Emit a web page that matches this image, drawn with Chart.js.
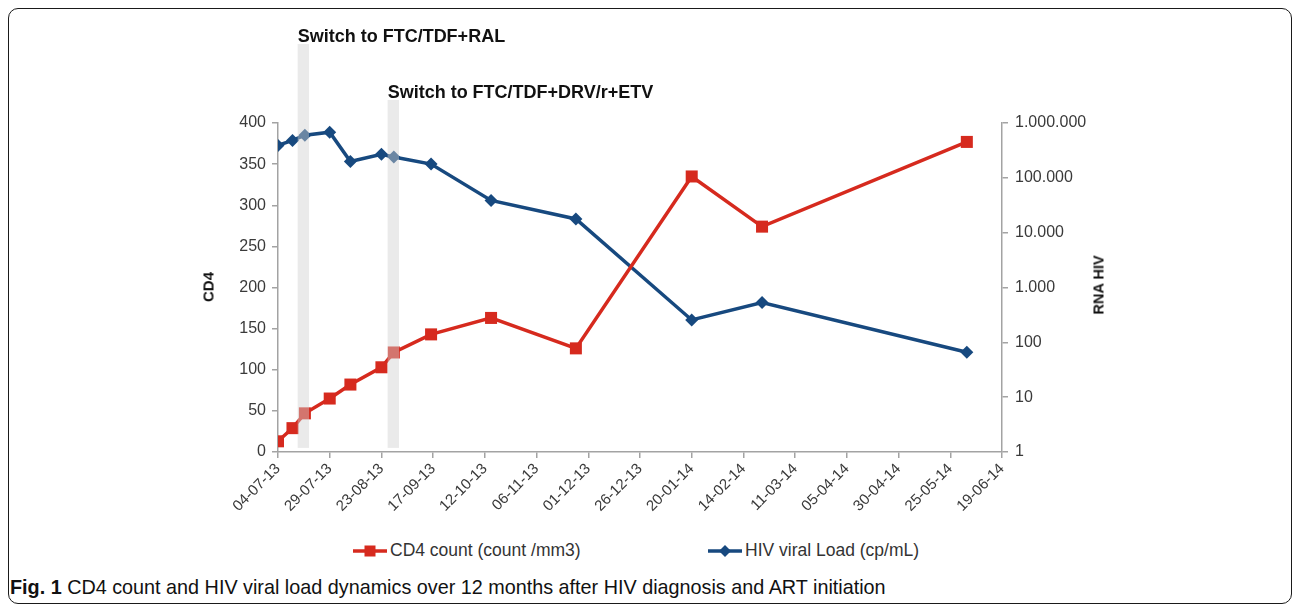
<!DOCTYPE html>
<html>
<head>
<meta charset="utf-8">
<script src="https://cdn.jsdelivr.net/npm/chart.js@4.4.1/dist/chart.umd.min.js"></script>
<style>
  body { margin: 0; background: #fff; font-family: "Liberation Sans", Arial, sans-serif; }
  #frame { position: absolute; left: 8px; top: 8px; width: 1282px; height: 594px;
           border: 1.5px solid #1a1a1a; border-radius: 10px; }
  #chart { position: absolute; left: 0; top: 0; }
  .note { position: absolute; font-weight: bold; font-size: 18px; line-height: 18px; color: #111; white-space: nowrap; }
  .axisTitle { position: absolute; font-weight: bold; font-size: 15px; line-height: 15px; color: #111;
               white-space: nowrap; transform: translate(-50%, -50%) rotate(-90deg); }
  .legendItem { position: absolute; top: 540px; display: flex; align-items: center; font-size: 17.5px; color: #333; white-space: nowrap; }
  .legendItem svg { margin-right: 3px; }
  #caption { position: absolute; left: 10px; top: 577px; font-size: 19.8px; line-height: 20px; color: #111; white-space: nowrap; }
</style>
</head>
<body>
<div id="frame"></div>
<canvas id="chart" width="1295" height="540"></canvas>
<div class="axisTitle" style="left:208px; top:287px;">CD4</div>
<div class="axisTitle" style="left:1099px; top:285px; font-size:14.5px;">RNA HIV</div>
<div class="legendItem" style="left:353px;">
  <svg width="34" height="14"><line x1="0" y1="7" x2="34" y2="7" stroke="#d62a1e" stroke-width="3.5"/><rect x="11.5" y="1.5" width="11" height="11" fill="#d62a1e"/></svg>
  <span>CD4 count (count /mm3)</span>
</div>
<div class="legendItem" style="left:708px;">
  <svg width="34" height="14"><line x1="0" y1="7" x2="34" y2="7" stroke="#17497f" stroke-width="3.5"/><polygon points="17,1 23,7 17,13 11,7" fill="#17497f"/></svg>
  <span>HIV viral Load (cp/mL)</span>
</div>
<div id="caption"><b>Fig. 1</b> CD4 count and HIV viral load dynamics over 12 months after HIV diagnosis and ART initiation</div>

<script>
// x axis: days since 04-07-13, one tick label every 25 days
const dayLabels = ["04-07-13", "29-07-13", "23-08-13", "17-09-13", "12-10-13", "06-11-13", "01-12-13", "26-12-13",
                   "20-01-14", "14-02-14", "11-03-14", "05-04-14", "30-04-14", "25-05-14", "19-06-14"];
const tickStep = 25;

const sampleDays = [0, 7, 13, 25, 35, 50, 56, 74, 103, 144, 200, 234, 333];
const cd4Count = [13, 29, 47, 65, 82, 103, 121, 143, 163, 126, 335, 274, 377];
const viralLoad = [390000, 480000, 600000, 680000, 198000, 270000, 240000, 178000, 38700, 17800, 256, 530, 66];
const rnaTicks = [1, 10, 100, 1000, 10000, 100000, 1000000];

// therapy switches (gray bands), top given in CD4 units
const switchNames = ["Switch to FTC/TDF+RAL", "Switch to FTC/TDF+DRV/r+ETV"];
const switchStart = [9.5, 53];
const switchEnd = [15, 58.5];
const switchTop = [496, 428];
const switchBottom = 5;

const red = "#d62a1e";
const blue = "#17497f";
const axisGray = "#a3a3a3";
const labelGray = "#3a3a3a";

function dotted(v) {
  return String(v).replace(/\B(?=(\d{3})+(?!\d))/g, ".");
}

const bands = {
  id: "bands",
  afterDatasetsDraw(chart) {
    const c = chart.ctx, x = chart.scales.x, y = chart.scales.yCD4;
    c.save();
    c.fillStyle = "rgba(208,208,208,0.45)";
    for (let i = 0; i < switchStart.length; i++) {
      const x0 = x.getPixelForValue(switchStart[i]);
      const x1 = x.getPixelForValue(switchEnd[i]);
      const y0 = y.getPixelForValue(switchTop[i]);
      const y1 = y.getPixelForValue(switchBottom);
      c.fillRect(x0, y0, x1 - x0, y1 - y0);
    }
    c.restore();
  }
};

const tickFont = { family: "'Liberation Sans', Arial, sans-serif", size: 16 };

const chart = new Chart(document.getElementById("chart"), {
  type: "line",
  data: {
    datasets: [{
      label: "CD4 count (count /mm3)",
      data: sampleDays.map((d, i) => ({ x: d, y: cd4Count[i] })),
      yAxisID: "yCD4",
      borderColor: red,
      backgroundColor: red,
      borderWidth: 3.5,
      pointStyle: "rect",
      pointRadius: 8.5,
      pointBorderWidth: 0,
      tension: 0
    }, {
      label: "HIV viral Load (cp/mL)",
      data: sampleDays.map((d, i) => ({ x: d, y: viralLoad[i] })),
      yAxisID: "yRNA",
      borderColor: blue,
      backgroundColor: blue,
      borderWidth: 3.5,
      pointStyle: "rectRot",
      pointRadius: 6.5,
      pointBorderWidth: 0,
      tension: 0
    }]
  },
  options: {
    responsive: false,
    animation: false,
    layout: { padding: { left: 208, right: 183, top: 123, bottom: 8 } },
    plugins: { legend: { display: false }, tooltip: { enabled: false } },
    scales: {
      x: {
        type: "linear", min: 0, max: 350,
        ticks: {
          stepSize: tickStep, autoSkip: false, minRotation: 45, maxRotation: 45,
          callback: v => dayLabels[Math.round(v / tickStep)],
          font: { family: tickFont.family, size: 15 }, color: labelGray, padding: 2
        },
        grid: { drawOnChartArea: false, color: axisGray, tickLength: 6, lineWidth: 1.5 },
        border: { color: axisGray, width: 1.5 },
        afterFit: s => { s.height = 80; }
      },
      yCD4: {
        type: "linear", position: "left", min: 0, max: 400,
        ticks: { stepSize: 50, font: tickFont, color: labelGray, padding: 6 },
        grid: { drawOnChartArea: false, color: axisGray, tickLength: 6, lineWidth: 1.5 },
        border: { color: axisGray, width: 1.5 },
        afterFit: s => { s.width = 70; }
      },
      yRNA: {
        type: "logarithmic", position: "right", min: 1, max: 1000000,
        afterBuildTicks: s => { s.ticks = rnaTicks.map(v => ({ value: v })); },
        ticks: { callback: v => dotted(v), font: tickFont, color: labelGray, padding: 7 },
        grid: { drawOnChartArea: false, color: axisGray, tickLength: 6, lineWidth: 1.5 },
        border: { color: axisGray, width: 1.5 },
        afterFit: s => { s.width = 110; }
      }
    }
  },
  plugins: [bands]
});

// switch labels sit just above their band
for (let i = 0; i < switchNames.length; i++) {
  const el = document.createElement("div");
  el.className = "note";
  el.textContent = switchNames[i];
  el.style.left = chart.scales.x.getPixelForValue(switchStart[i]) + "px";
  el.style.top = (chart.scales.yCD4.getPixelForValue(switchTop[i]) - 2 - 15) + "px";
  document.body.appendChild(el);
}
</script>
</body>
</html>
